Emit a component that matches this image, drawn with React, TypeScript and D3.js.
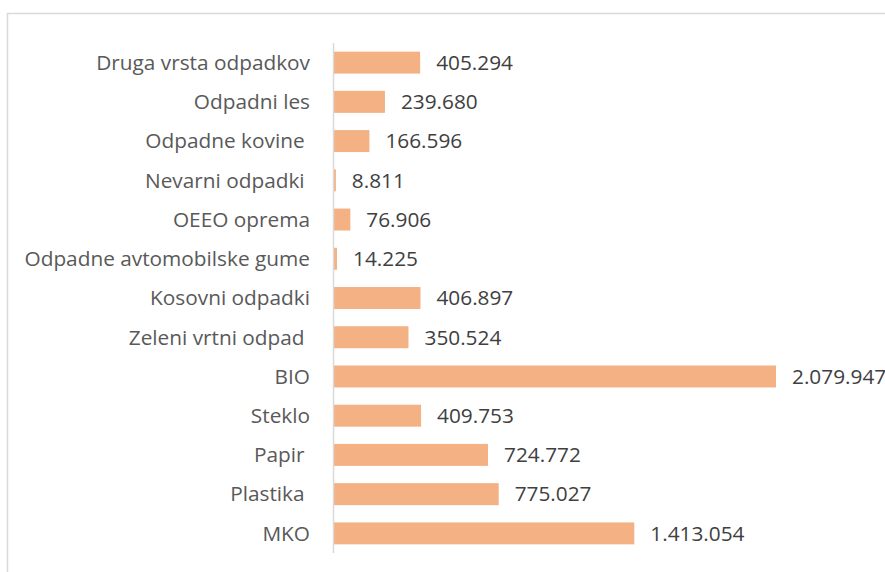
import React from "react";
import * as d3 from "d3";

const categories = [
  "Druga vrsta odpadkov",
  "Odpadni les",
  "Odpadne kovine ",
  "Nevarni odpadki ",
  "OEEO oprema",
  "Odpadne avtomobilske gume",
  "Kosovni odpadki",
  "Zeleni vrtni odpad ",
  "BIO",
  "Steklo",
  "Papir ",
  "Plastika ",
  "MKO",
];
const values = [405294, 239680, 166596, 8811, 76906, 14225, 406897, 350524, 2079947, 409753, 724772, 775027, 1413054];
const valueLabels = ["405.294", "239.680", "166.596", "8.811", "76.906", "14.225", "406.897", "350.524", "2.079.947", "409.753", "724.772", "775.027", "1.413.054"];

export default function App() {
  const W = 885, H = 572;
  const x0 = 334;
  const x = d3.scaleLinear().domain([0, 2079947]).range([x0, 776]);
  const y = d3.scaleBand().domain(categories).range([43, 553]).paddingInner(0.44).paddingOuter(0.22);
  const font = "'Open Sans', sans-serif";
  return (
    <svg width={W} height={H} style={{ position: "absolute", left: 0, top: 0 }}>
      <rect x={0} y={0} width={W} height={H} fill="#fff" />
      <path d={`M7.5,${H} V13.5 H${W}`} fill="none" stroke="#d9d9d9" strokeWidth={1.5} />
      {categories.map((c, i) => (
        <g key={c}>
          <rect x={x0} y={y(c)!} width={x(values[i]) - x0} height={y.bandwidth()} fill="#F4B183" />
          <text x={310} y={y(c)! + y.bandwidth() / 2} dy="0.35em" textAnchor="end" fontFamily={font} fontSize={20.8} fill="#595959" style={{ whiteSpace: "pre" }}>
            {c}
          </text>
          <text x={x(values[i]) + 16} y={y(c)! + y.bandwidth() / 2} dy="0.35em" fontFamily={font} fontSize={20.8} fill="#404040">
            {valueLabels[i]}
          </text>
        </g>
      ))}
      <line x1={x0 - 0.5} x2={x0 - 0.5} y1={43} y2={553} stroke="#d9d9d9" strokeWidth={1.5} />
    </svg>
  );
}
